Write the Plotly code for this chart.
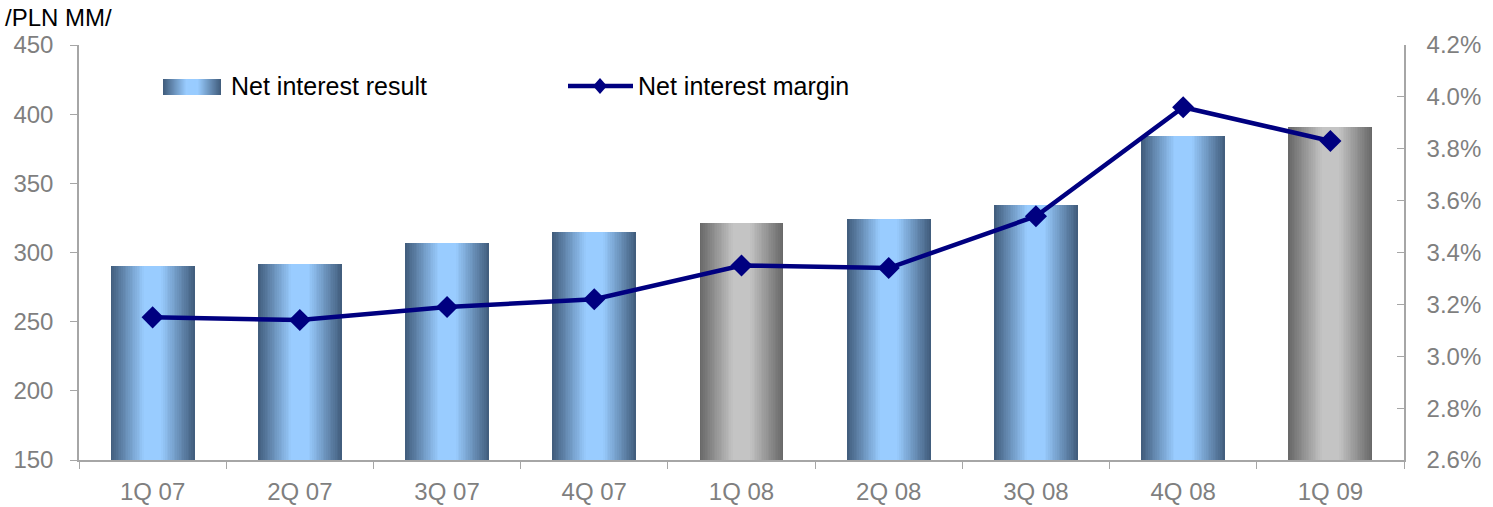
import plotly.graph_objects as go

# Quarterly data
quarters = ["1Q 07", "2Q 07", "3Q 07", "4Q 07", "1Q 08", "2Q 08", "3Q 08", "4Q 08", "1Q 09"]
net_interest_result = [290, 292, 307, 315, 321, 324, 334, 384, 391]   # PLN MM
net_interest_margin = [3.15, 3.14, 3.19, 3.22, 3.35, 3.34, 3.54, 3.96, 3.83]  # %
grey_quarters = ["1Q 08", "1Q 09"]  # first quarters drawn in grey

W, H = 1493, 507
PL, PR, PT, PB = 79, 1404, 45, 460  # plot area in pixels

FONT = "Liberation Sans, Arial, sans-serif"
TICK_GREY = "#7f7f7f"
AXIS_GREY = "#a6a6a6"

BLUE_EDGE, BLUE_MID = (66, 94, 126), (153, 204, 255)
GREY_EDGE, GREY_MID = (105, 105, 105), (196, 196, 196)


def mix(c0, c1, t):
    return "rgb(%d,%d,%d)" % tuple(round(a + (b - a) * t) for a, b in zip(c0, c1))


def shade(p):
    # p: 0 at bar edge, 1 at bar centre
    return min(1.0, p / 0.78)


BAR_W = 0.57
N_LAYERS = 24

fig = go.Figure()

# Bars drawn as nested layers to give a horizontal cylinder-like gradient
for k in range(N_LAYERS):
    t = shade(k / N_LAYERS)
    colors = [mix(GREY_EDGE, GREY_MID, t) if q in grey_quarters else mix(BLUE_EDGE, BLUE_MID, t)
              for q in quarters]
    fig.add_trace(go.Bar(
        x=quarters, y=net_interest_result,
        width=BAR_W * (1 - k / N_LAYERS),
        marker=dict(color=colors, line=dict(width=0)),
        showlegend=False, hoverinfo="skip" if k else "x+y",
        name="Net interest result",
    ))

fig.add_trace(go.Scatter(
    x=quarters, y=net_interest_margin, yaxis="y2",
    mode="lines+markers", name="Net interest margin",
    line=dict(color="#000080", width=4.5),
    marker=dict(symbol="diamond", size=17, color="#000080"),
    showlegend=False,
))


def px_x(x):
    return (x - PL) / (PR - PL)


def px_y(y):
    return (PB - y) / (PB - PT)


shapes = []
annotations = []

# Legend: gradient swatch for the bars
sw_l, sw_r, sw_t, sw_b = 163, 221, 79, 95
cx = (sw_l + sw_r) / 2
half = (sw_r - sw_l) / 2
for k in range(N_LAYERS):
    t = shade(k / N_LAYERS)
    hw = half * (1 - k / N_LAYERS)
    shapes.append(dict(type="rect", xref="paper", yref="paper",
                       x0=px_x(cx - hw), x1=px_x(cx + hw), y0=px_y(sw_b), y1=px_y(sw_t),
                       fillcolor=mix(BLUE_EDGE, BLUE_MID, t), line=dict(width=0), layer="above"))
annotations.append(dict(text="Net interest result", xref="paper", yref="paper",
                        x=px_x(229), y=px_y(86), xanchor="left", yanchor="middle",
                        showarrow=False, font=dict(family=FONT, size=25, color="#000000")))

# Legend: line with diamond marker
ly = 86
shapes.append(dict(type="line", xref="paper", yref="paper",
                   x0=px_x(568), x1=px_x(633), y0=px_y(ly), y1=px_y(ly),
                   line=dict(color="#000080", width=4.5), layer="above"))
dx, dy = 7, 8
shapes.append(dict(type="path", xref="paper", yref="paper",
                   path="M %f %f L %f %f L %f %f L %f %f Z" % (
                       px_x(600 - dx), px_y(ly), px_x(600), px_y(ly - dy),
                       px_x(600 + dx), px_y(ly), px_x(600), px_y(ly + dy)),
                   fillcolor="#000080", line=dict(width=0), layer="above"))
annotations.append(dict(text="Net interest margin", xref="paper", yref="paper",
                        x=px_x(636), y=px_y(86), xanchor="left", yanchor="middle",
                        showarrow=False, font=dict(family=FONT, size=25, color="#000000")))

# Unit label
annotations.append(dict(text="/PLN MM/", xref="paper", yref="paper",
                        x=px_x(3), y=px_y(18), xanchor="left", yanchor="middle",
                        showarrow=False, font=dict(family=FONT, size=24, color="#000000")))

tick_font = dict(family=FONT, size=24, color=TICK_GREY)
n = len(quarters)
boundaries = [i - 0.5 for i in range(n + 1)]

fig.update_layout(
    width=W, height=H,
    margin=dict(l=PL, r=W - PR, t=PT, b=H - PB, pad=0, autoexpand=False),
    paper_bgcolor="white", plot_bgcolor="white",
    barmode="overlay", bargap=0,
    showlegend=False,
    font=dict(family=FONT),
    xaxis=dict(type="category", categoryorder="array", categoryarray=quarters,
               range=[-0.5, n - 0.5], tickson="boundaries", automargin=False,
               ticks="outside", ticklen=7, tickcolor=AXIS_GREY, tickwidth=1,
               showline=True, linecolor=AXIS_GREY, linewidth=1.5,
               showgrid=False, tickfont=tick_font, ticklabelstandoff=9),
    xaxis2=dict(overlaying="x", anchor="y", side="bottom", range=[-0.5, n - 0.5],
                tickmode="array", tickvals=boundaries, ticks="inside", ticklen=7,
                tickcolor=AXIS_GREY, showticklabels=False, showgrid=False,
                showline=False, zeroline=False, automargin=False),
    yaxis=dict(range=[150, 450], dtick=50, tick0=150, automargin=False,
               ticks="outside", ticklen=7, tickcolor=AXIS_GREY,
               showline=True, linecolor=AXIS_GREY, linewidth=1.5,
               showgrid=False, zeroline=False, tickfont=tick_font, ticklabelstandoff=12),
    yaxis3=dict(overlaying="y", anchor="x", side="left", range=[150, 450], dtick=50, tick0=150,
                ticks="inside", ticklen=7, tickcolor=AXIS_GREY, showticklabels=False,
                showgrid=False, showline=False, zeroline=False, automargin=False),
    yaxis2=dict(overlaying="y", side="right", anchor="x", range=[2.6, 4.2], dtick=0.2, tick0=2.6,
                tickformat=".1f", ticksuffix="%", automargin=False,
                ticks="inside", ticklen=7, tickcolor=AXIS_GREY,
                showline=True, linecolor=AXIS_GREY, linewidth=1.5,
                showgrid=False, zeroline=False, tickfont=tick_font, ticklabelstandoff=16),
    shapes=shapes, annotations=annotations,
)

fig.write_html("out.html")
